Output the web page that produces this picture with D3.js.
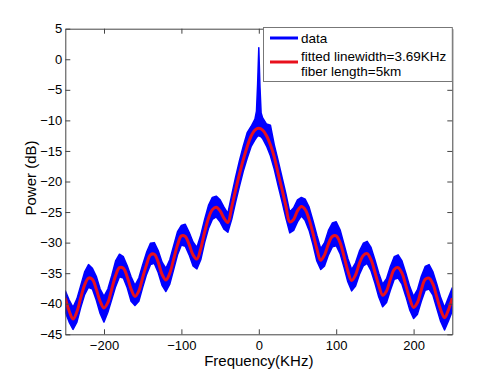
<!DOCTYPE html>
<html>
<head>
<meta charset="utf-8">
<script src="https://cdn.jsdelivr.net/npm/d3@7"></script>
<style>
    body { margin: 0; background: #fff; }
    svg { font-family: Arial, "Liberation Sans", sans-serif; }
</style>
</head>
<body>
<div id="chart"></div>
<script>
// x ticks / y ticks
const xTicks = [-200, -100, 0, 100, 200];
const yTicks = [-45, -40, -35, -30, -25, -20, -15, -10, -5, 0, 5];

// fitted curve, one value every 5 KHz from -250 to 250
const fitFreq = d3.range(-250, 251, 5);
const fitPower = [
    -39.1, -41.2, -42.5, -41.3, -39.0, -36.9, -35.8, -36.0, -37.6, -39.6,
    -40.7, -39.8, -37.6, -35.4, -34.1, -34.2, -35.6, -37.6, -38.8, -37.9,
    -35.7, -33.6, -32.0, -31.9, -33.2, -35.2, -36.1, -35.0, -32.7, -30.4,
    -28.9, -29.0, -30.3, -32.0, -32.7, -31.0, -28.3, -26.0, -24.6, -24.2,
    -24.8, -26.0, -26.7, -24.2, -21.4, -18.8, -16.4, -14.3, -12.6, -11.6,
    -11.3,
    -11.6, -12.5, -14.0, -16.0, -18.7, -21.3, -24.0, -26.6, -26.2, -24.8,
    -24.1, -24.6, -26.2, -28.5, -31.0, -32.9, -32.0, -30.2, -29.0, -28.9,
    -30.0, -32.2, -34.6, -36.2, -35.3, -33.4, -32.1, -31.8, -32.8, -34.8,
    -37.0, -38.6, -37.9, -36.0, -34.4, -34.1, -35.0, -37.0, -39.2, -40.6,
    -39.8, -37.7, -36.0, -35.8, -36.8, -38.9, -41.0, -42.3, -41.0, -39.1
];

// measured data, drawn as the band between its highs and lows
const dataFreq = [...d3.range(-250, -4, 5), -3, -1.5, 0, 1.5, 3, ...d3.range(5, 251, 5)];
const dataHigh = [
    -37.9, -39.4, -40.6, -39.2, -37.0, -34.8, -33.6, -34.2, -35.5, -37.6,
    -38.8, -37.6, -35.4, -33.0, -31.9, -32.3, -33.8, -35.6, -37.0, -35.8,
    -33.6, -31.6, -30.1, -30.0, -31.3, -33.2, -34.2, -32.8, -30.5, -28.2,
    -27.2, -27.0, -28.3, -29.9, -30.8, -28.8, -26.2, -23.9, -22.6, -22.4,
    -23.0, -24.2, -25.2, -22.2, -19.3, -16.6, -14.2, -12.0, -11.0, -9.8,
    -8.5, -4.0, 1.9, -4.5, -8.8,
    -9.6, -10.6, -10.8, -14.0, -16.6, -19.3, -22.0, -25.0, -24.3, -23.0,
    -22.6, -22.9, -24.2, -26.4, -28.8, -31.0, -30.0, -28.0, -26.8, -26.6,
    -27.9, -30.2, -32.6, -34.4, -33.3, -31.4, -30.1, -29.8, -30.8, -32.8,
    -35.0, -36.8, -35.9, -33.9, -32.3, -32.0, -33.0, -35.0, -37.2, -38.8,
    -37.7, -35.5, -33.9, -33.6, -34.8, -36.8, -39.0, -40.6, -39.0, -37.4
];
const dataLow = [
    -41.4, -43.0, -44.2, -43.0, -40.6, -38.5, -37.3, -37.6, -39.4, -41.6,
    -43.0, -41.4, -39.3, -37.2, -35.6, -35.8, -37.4, -39.6, -40.3, -39.6,
    -37.3, -35.2, -33.6, -33.4, -34.9, -37.0, -38.0, -36.8, -34.4, -32.0,
    -30.4, -30.6, -32.0, -33.8, -34.3, -32.8, -30.0, -27.7, -26.2, -25.8,
    -26.6, -27.8, -28.3, -26.2, -23.4, -20.8, -18.3, -16.2, -14.3, -13.2,
    -12.8, -12.6, -12.5, -12.6, -12.7,
    -13.0, -14.2, -15.8, -18.0, -20.7, -23.3, -26.0, -28.4, -28.0, -26.6,
    -25.6, -26.4, -28.0, -30.3, -33.0, -34.4, -33.8, -32.0, -30.7, -30.5,
    -31.8, -34.0, -36.4, -37.9, -37.1, -35.2, -33.8, -33.4, -34.6, -36.6,
    -38.9, -40.5, -39.8, -37.8, -36.0, -35.8, -36.8, -38.8, -41.0, -42.4,
    -41.7, -39.6, -37.8, -37.6, -38.6, -40.8, -42.9, -44.3, -42.8, -41.2
];

const legendLabels = [["data"], ["fitted linewidth=3.69KHz", "fiber length=5km"]];
const legendColors = ["#0000ff", "#e8101c"];

const svg = d3.select("#chart").append("svg")
    .attr("width", 500)
    .attr("height", 376);

const plotLeft = 65.3, plotRight = 452.3, plotTop = 28.7, plotBottom = 334.3;

const x = d3.scaleLinear().domain([-250, 250]).range([plotLeft, plotRight]);
const y = d3.scaleLinear().domain([-45, 5]).range([plotBottom, plotTop]);

svg.append("defs").append("clipPath")
    .attr("id", "plot-clip")
  .append("rect")
    .attr("x", plotLeft).attr("y", plotTop)
    .attr("width", plotRight - plotLeft).attr("height", plotBottom - plotTop);

const plot = svg.append("g").attr("clip-path", "url(#plot-clip)");

const dataRows = dataFreq.map((f, i) => ({f: f, hi: dataHigh[i], lo: dataLow[i]}));
const band = d3.area()
    .x(d => x(d.f))
    .y0(d => y(d.lo))
    .y1(d => y(d.hi));

plot.append("path")
    .datum(dataRows)
    .attr("d", band)
    .attr("fill", legendColors[0])
    .attr("stroke", legendColors[0])
    .attr("stroke-width", 1.5)
    .attr("stroke-linejoin", "round");

const fitLine = d3.line()
    .x((d, i) => x(fitFreq[i]))
    .y(d => y(d))
    .curve(d3.curveCatmullRom);

plot.append("path")
    .datum(fitPower)
    .attr("d", fitLine)
    .attr("fill", "none")
    .attr("stroke", legendColors[1])
    .attr("stroke-width", 3);

// axes, matlab style box with ticks inside
const axisColor = "#444";
function styleAxis(g) {
    g.select(".domain").attr("stroke", axisColor);
    g.selectAll(".tick line").attr("stroke", axisColor);
    g.selectAll(".tick text").attr("fill", "#000").style("font-size", "13px");
}

svg.append("g")
    .attr("transform", `translate(0,${plotBottom})`)
    .call(d3.axisBottom(x).tickValues(xTicks).tickSize(-5).tickSizeOuter(0).tickPadding(6))
    .call(styleAxis);

svg.append("g")
    .attr("transform", `translate(0,${plotTop})`)
    .call(d3.axisTop(x).tickValues(xTicks).tickSize(-5).tickSizeOuter(0).tickFormat(""))
    .call(styleAxis);

svg.append("g")
    .attr("transform", `translate(${plotLeft},0)`)
    .call(d3.axisLeft(y).tickValues(yTicks).tickSize(-5).tickSizeOuter(0).tickPadding(3))
    .call(styleAxis);

svg.append("g")
    .attr("transform", `translate(${plotRight},0)`)
    .call(d3.axisRight(y).tickValues(yTicks).tickSize(-5).tickSizeOuter(0).tickFormat(""))
    .call(styleAxis);

svg.append("text")
    .attr("x", (plotLeft + plotRight) / 2)
    .attr("y", 366)
    .attr("text-anchor", "middle")
    .style("font-size", "15px")
    .text("Frequency(KHz)");

svg.append("text")
    .attr("transform", "translate(36,178) rotate(-90)")
    .attr("text-anchor", "middle")
    .style("font-size", "15px")
    .text("Power (dB)");

// legend
const legend = svg.append("g");
legend.append("rect")
    .attr("x", 263.5).attr("y", 27.5)
    .attr("width", plotRight - 263.5).attr("height", 54)
    .attr("fill", "#fff")
    .attr("stroke", "#777");

const legendRows = [{lineY: 38, textY: [42.5]}, {lineY: 62, textY: [61, 75.5]}];
legendRows.forEach((r, i) => {
    legend.append("line")
        .attr("x1", 270).attr("x2", 298)
        .attr("y1", r.lineY).attr("y2", r.lineY)
        .attr("stroke", legendColors[i])
        .attr("stroke-width", 3);
    legendLabels[i].forEach((t, j) => {
        legend.append("text")
            .attr("x", 301)
            .attr("y", r.textY[j])
            .style("font-size", "13.5px")
            .text(t);
    });
});
</script>
</body>
</html>
